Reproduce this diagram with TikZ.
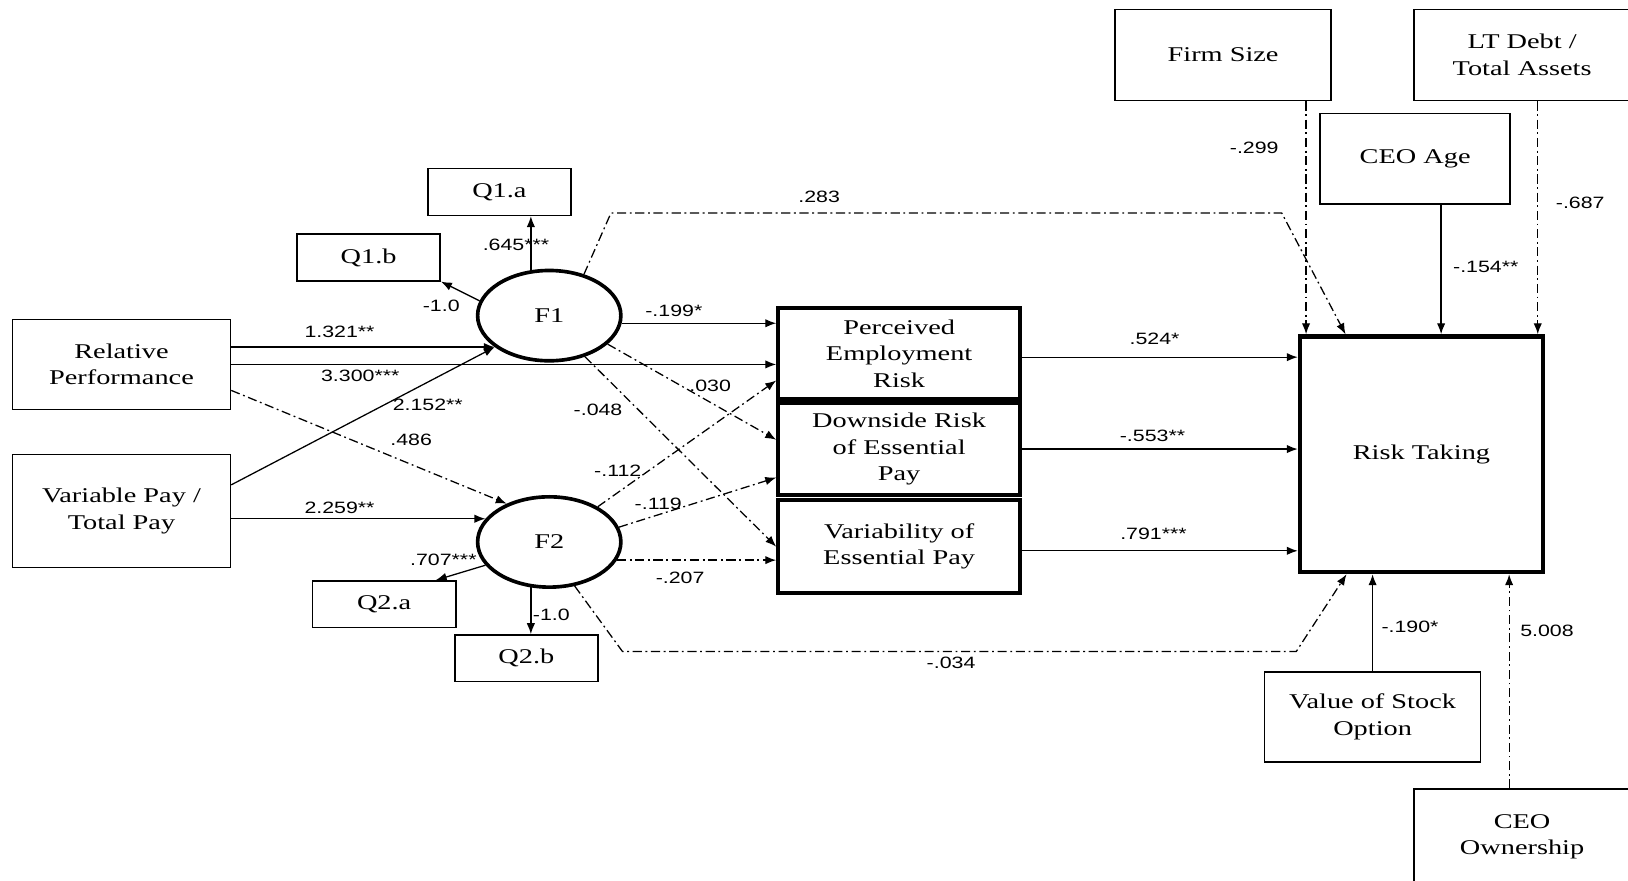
\documentclass[tikz,border=0pt]{standalone}
\usepackage{fontspec}
\setmainfont{Liberation Serif}[FakeStretch=1.35]
\newfontfamily\lblfont{Liberation Sans}[FakeStretch=1.3]
\usetikzlibrary{arrows.meta,shapes.geometric}

\begin{document}
\begin{tikzpicture}[
    x=0.02cm, y=-0.02cm,
    >={Latex[length=6pt,width=4.6pt]},
    every node/.style={font=\fontsize{11.5}{14.5}\selectfont, align=center},
    box/.style={draw, line width=0.8pt, inner sep=0pt},
    qbox/.style={box, minimum width=2.76cm, minimum height=0.9cm},
    factor/.style={draw, ellipse, line width=2pt, minimum width=2.76cm, minimum height=1.74cm},
    med/.style={draw, line width=2.2pt, minimum width=4.66cm, minimum height=1.76cm, inner sep=0pt},
    lbl/.style={font=\lblfont\fontsize{9}{11}\selectfont, inner sep=1pt},
    weak/.style={dash pattern=on 5pt off 2pt on 1pt off 2pt},
    every path/.style={line width=0.7pt}
]
\useasboundingbox[fill=white] (0,0) rectangle (1568,848);

\node[box, minimum width=4.2cm, minimum height=1.74cm] (rp) at (117,351) {Relative\\Performance};
\node[box, minimum width=4.2cm, minimum height=2.18cm] (vp) at (117,492) {Variable Pay /\\Total Pay};
\node[qbox] (q1a) at (481,185) {Q1.a};
\node[qbox] (q1b) at (355,248) {Q1.b};
\node[qbox] (q2a) at (370,582) {Q2.a};
\node[qbox] (q2b) at (507,634) {Q2.b};
\node[factor] (f1) at (529,304) {F1};
\node[factor] (f2) at (529,522) {F2};
\node[med] (per) at (866,340.5) {Perceived\\Employment\\Risk};
\node[med] (drp) at (866,432.5) {Downside Risk\\of Essential\\Pay};
\node[med, minimum height=1.8cm] (vep) at (866,526.5) {Variability of\\Essential Pay};
\node[draw, line width=2.4pt, minimum width=4.68cm, minimum height=4.54cm] (rt) at (1369,437.5) {Risk Taking};
\node[box, minimum width=4.16cm, minimum height=1.76cm] (fs) at (1178,53) {Firm Size};
\node[box, minimum width=4.16cm, minimum height=1.76cm] (ltd) at (1466,53) {LT Debt /\\Total Assets};
\node[box, minimum width=3.66cm, minimum height=1.74cm] (age) at (1363,153) {CEO Age};
\node[box, minimum width=4.16cm, minimum height=1.74cm] (vso) at (1322,690.5) {Value of Stock\\Option};
\node[box, minimum width=4.16cm, minimum height=1.84cm] (own) at (1466,806) {CEO\\Ownership};

\draw[->] (f1.210 -| rp.east) -- (f1.210);
\draw[->] (rp.east) -- (rp.east -| per.west);
\draw[->] ([yshift=0.5cm]vp.east) -- (f1.210);
\draw[weak,->] ([yshift=-0.5cm]rp.east) -- (f2.138);
\draw[->] (f2.160 -| vp.east) -- (f2.160);
\draw[->] (f1.112) -- (f1.112 |- q1a.south);
\draw[->] (f1.168) -- (q1b.south east);
\draw[->] (f2.200) -- ([xshift=-0.4cm]q2a.north east);
\draw[->] (f2.248) -- (f2.248 |- q2b.north);
\draw[->] (f1.354) -- (f1.354 -| per.west);
\draw[weak,->] (f1.334) -- ([yshift=0.18cm]drp.west);
\draw[weak,->] (f1.311) -- (vep.west);
\draw[weak,->] (f2.36) -- ([yshift=-0.52cm]per.west);
\draw[weak,->] (f2.12) -- ([yshift=-0.55cm]drp.west);
\draw[weak,->] (f2.345) -- (f2.345 -| vep.west);
\draw[weak,->] (f1.50) -- ++(26,-59) -- ++(646,0) -- ([xshift=0.92cm]rt.north west);
\draw[weak,->] (f2.300) -- ++(46,63) -- ++(649,0) -- ([xshift=0.94cm]rt.south west);
\draw[->] ([yshift=-0.07cm]per.east) -- ([yshift=-0.07cm]per.east -| rt.west);
\draw[->] (drp.east) -- (drp.east -| rt.west);
\draw[->] ([yshift=-0.08cm]vep.east) -- ([yshift=-0.08cm]vep.east -| rt.west);
\draw[weak,->] ([xshift=0.16cm]rt.north west |- fs.south) -- ([xshift=0.16cm]rt.north west);
\draw[weak,->] ([xshift=-0.14cm]rt.north east |- ltd.south) -- ([xshift=-0.14cm]rt.north east);
\draw[->] ([xshift=0.5cm]age.south) -- ([xshift=0.5cm]age.south |- rt.north);
\draw[->] (vso.north) -- (vso.north |- rt.south);
\draw[weak,->] ([xshift=-0.25cm]own.north) -- ([xshift=-0.25cm]own.north |- rt.south);

\node[lbl] (l645) at (497,236) {.645***};
\node[lbl] (l10a) at (425,295) {-1.0};
\node[lbl] (l1321) at (327,320) {1.321**};
\node[lbl] (l3300) at (347,362) {3.300***};
\node[lbl] (l2152) at (412,390) {2.152**};
\node[lbl] (l486) at (396,424) {.486};
\node[lbl] (l2259) at (327,489) {2.259**};
\node[lbl] (l707) at (427,539) {.707***};
\node[lbl] (l10b) at (531,592) {-1.0};
\node[lbl] (l199) at (649,299) {-.199*};
\node[lbl] (l030) at (684,372) {.030};
\node[lbl] (l048) at (576,395) {-.048};
\node[lbl] (l112) at (595,453) {-.112};
\node[lbl] (l119) at (634,485) {-.119};
\node[lbl] (l207) at (655,557) {-.207};
\node[lbl] (l283) at (789,190) {.283};
\node[lbl] (l034) at (916,638) {-.034};
\node[lbl] (l524) at (1112,326) {.524*};
\node[lbl] (l553) at (1110,420) {-.553**};
\node[lbl] (l791) at (1111,514) {.791***};
\node[lbl] (l299) at (1208,142) {-.299};
\node[lbl] (l687) at (1522,195) {-.687};
\node[lbl] (l154) at (1431,257) {-.154**};
\node[lbl] (l190) at (1358,604) {-.190*};
\node[lbl] (l5008) at (1490,608) {5.008};
\end{tikzpicture}
\end{document}
